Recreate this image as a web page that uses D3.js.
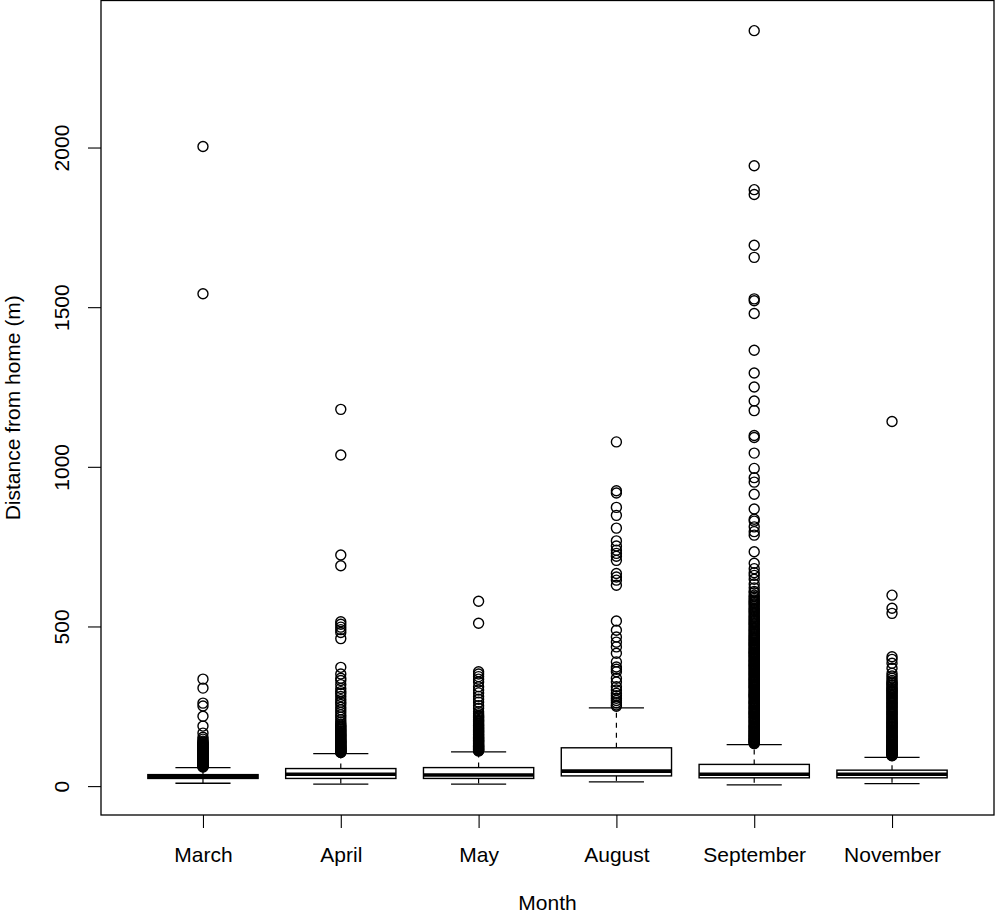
<!DOCTYPE html>
<html>
<head>
<meta charset="utf-8">
<script src="https://cdn.jsdelivr.net/npm/d3@7"></script>
<style>
  body { margin: 0; background: #fff; }
  text { font-family: "Liberation Sans", Arial, sans-serif; fill: #000; }
</style>
</head>
<body>
<div id="chart"></div>
<script>
////////// Data
var months = ["March", "April", "May", "August", "September", "November"];
var lowerWhisker = [9, 6, 6, 13, 4, 8];
var q1 = [24, 24, 24, 32, 26, 26];
var median = [30, 37, 35, 47, 37, 37];
var q3 = [36, 55, 58, 120, 68, 50];
var upperWhisker = [58, 102, 107, 245, 130, 90];
var yTicks = [0, 500, 1000, 1500, 2000];

// outliers (dense parts of the columns read as closely packed points)
var outMarch = [2003, 1542, 335, 307, 260, 251, 219, 188, 166, 153, 147, 141, 136, 131, 128, 123, 119, 116, 111, 108, 105, 101,
  98, 96, 92, 89, 87, 83, 80, 78, 75, 72, 70, 67, 65, 62, 60,
  61, 63, 66, 69, 71, 74, 77, 79, 82, 85, 88, 91, 94, 97, 100, 103, 107, 110, 113, 118, 121, 125, 130, 133, 138];
var outApril = [1180, 1037, 724, 690, 515, 507, 498, 490, 481, 462, 372, 351, 338, 331, 318, 306, 296, 290, 281, 271, 263, 256,
  247, 239, 231, 223, 216, 208, 201, 195, 188, 182, 176, 171, 165, 160, 156, 151, 146, 142, 138, 135, 131, 127, 124, 121,
  118, 115, 112, 109, 107, 105,
  106, 108, 110, 113, 116, 119, 122, 126, 129, 133, 137, 140, 144, 148, 153, 158, 163, 168, 173, 179, 185, 191];
var outMay = [579, 510, 358, 351, 343, 335, 326, 311, 301, 292, 281, 272, 263, 252, 244, 233, 227, 219, 213, 206, 201, 194,
  189, 183, 178, 173, 169, 163, 159, 154, 150, 146, 142, 139, 135, 131, 127, 124, 121, 118, 115, 113, 110,
  111, 114, 117, 120, 123, 126, 129, 133, 137, 141, 144, 148, 152, 156, 161, 166, 171, 176, 181, 186, 191, 197, 203, 209,
  216, 222];
var outAugust = [1078, 925, 918, 873, 848, 808, 768, 752, 739, 729, 720, 707, 666, 655, 645, 629, 517, 488, 467, 451, 436,
  416, 389, 373, 366, 358, 338, 326, 311, 301, 291, 283, 275, 268, 261, 254, 250];
var outSeptember = [2366, 1943, 1868, 1853, 1694, 1656, 1526, 1520, 1480, 1365, 1294, 1250, 1206, 1176, 1098, 1092, 1043, 995,
  966, 952, 914, 868, 836, 830, 812, 797, 786, 734, 698, 681, 668, 660, 648, 633, 621, 606, 593, 583, 575, 567, 557, 549,
  541, 532, 524, 516, 509, 501, 493, 486, 478, 471, 465, 458, 451, 446, 443, 437, 433, 428, 421, 417, 414, 408, 403, 396,
  393, 388, 381, 377, 374, 368, 362, 359, 353, 347, 344, 338, 333, 327, 324, 318, 312, 308, 303, 297, 294, 288, 283, 279,
  272, 268, 263, 258, 254, 248, 243, 239, 233, 228, 224, 218, 213, 209, 203, 198, 194, 188, 184, 179, 173, 169, 164, 159,
  155, 150, 146, 142, 138, 135,
  610, 598, 588, 579, 571, 562, 553, 545, 536, 528, 520, 512, 505, 497, 489, 482, 475, 468, 461, 455,
  449, 440, 430, 425, 419, 411, 405, 399, 390, 384, 379, 371, 365, 356, 350, 341, 335, 330, 321, 315, 310, 300, 291, 286,
  281, 275, 265, 260, 251, 245, 236, 231, 226, 220, 215, 206, 200, 191, 186, 181, 176, 171, 166, 161, 157, 152, 148, 144,
  140, 137, 133];
var outNovember = [1142, 598, 557, 541, 405, 397, 385, 369, 353, 345, 338, 331, 322, 315, 306, 299, 293, 285, 278, 272, 264,
  258, 250, 244, 236, 229, 223, 215, 209, 201, 196, 189, 184, 177, 171, 166, 159, 154, 150, 144, 139, 135, 129, 125, 121,
  117, 113, 109, 105, 102, 98, 95,
  96, 100, 104, 107, 111, 115, 119, 123, 127, 131, 137, 141, 147, 152, 157, 162, 168, 174, 180, 186, 193, 198, 205, 212,
  219, 226, 233, 240, 247, 254, 261, 268, 275, 282, 289, 296, 303, 310, 318, 326];
var outliers = [outMarch, outApril, outMay, outAugust, outSeptember, outNovember];

////////// Layout
var w = 995, h = 915;
var plotLeft = 101, plotRight = 994, plotTop = 0.5, plotBottom = 815;

var svg = d3.select("#chart").append("svg")
  .attr("width", w)
  .attr("height", h);

// scales, R style : 4% extension of the data range
var allValues = d3.merge(outliers).concat(lowerWhisker, upperWhisker);
var lo = d3.min(allValues), hi = d3.max(allValues);
var pad = (hi - lo) * 0.04;
var y = d3.scaleLinear().domain([lo - pad, hi + pad]).range([plotBottom, plotTop]);
var x = d3.scaleLinear().domain([0.5 - 0.24, months.length + 0.5 + 0.24]).range([plotLeft, plotRight]);

var halfBox = x(1.4) - x(1);
var halfCap = halfBox / 2;

var boxes = months.map(function(m, i) {
  return { id: i + 1, name: m, lw: lowerWhisker[i], q1: q1[i], med: median[i], q3: q3[i], uw: upperWhisker[i], out: outliers[i] };
});

var g = svg.append("g");

/*
 * Whiskers (dashed) and staples
 */
g.selectAll(".wup").data(boxes).enter().append("line")
  .attr("x1", function(d) { return x(d.id); })
  .attr("x2", function(d) { return x(d.id); })
  .attr("y1", function(d) { return y(d.q3); })
  .attr("y2", function(d) { return y(d.uw); })
  .attr("stroke", "#000").attr("stroke-width", 1.2).attr("stroke-dasharray", "5,5");
g.selectAll(".wlo").data(boxes).enter().append("line")
  .attr("x1", function(d) { return x(d.id); })
  .attr("x2", function(d) { return x(d.id); })
  .attr("y1", function(d) { return y(d.q1); })
  .attr("y2", function(d) { return y(d.lw); })
  .attr("stroke", "#000").attr("stroke-width", 1.2).attr("stroke-dasharray", "5,5");

["uw", "lw"].forEach(function(k) {
  g.selectAll(".cap" + k).data(boxes).enter().append("line")
    .attr("x1", function(d) { return x(d.id) - halfCap; })
    .attr("x2", function(d) { return x(d.id) + halfCap; })
    .attr("y1", function(d) { return y(d[k]); })
    .attr("y2", function(d) { return y(d[k]); })
    .attr("stroke", "#000").attr("stroke-width", 1.3);
});

/*
 * Boxes and medians
 */
g.selectAll(".box").data(boxes).enter().append("rect")
  .attr("x", function(d) { return x(d.id) - halfBox; })
  .attr("y", function(d) { return y(d.q3); })
  .attr("width", halfBox * 2)
  .attr("height", function(d) { return y(d.q1) - y(d.q3); })
  .attr("fill", "#fff")
  .attr("stroke", "#000").attr("stroke-width", 1.4);

g.selectAll(".med").data(boxes).enter().append("line")
  .attr("x1", function(d) { return x(d.id) - halfBox; })
  .attr("x2", function(d) { return x(d.id) + halfBox; })
  .attr("y1", function(d) { return y(d.med); })
  .attr("y2", function(d) { return y(d.med); })
  .attr("stroke", "#000").attr("stroke-width", 3.6);

/*
 * Outliers
 */
boxes.forEach(function(b) {
  g.selectAll(".o" + b.id).data(b.out).enter().append("circle")
    .attr("cx", x(b.id))
    .attr("cy", function(v) { return y(v); })
    .attr("r", 5)
    .attr("fill", "none")
    .attr("stroke", "#000").attr("stroke-width", 1.4);
});

// frame
svg.append("rect")
  .attr("x", plotLeft).attr("y", plotTop)
  .attr("width", plotRight - plotLeft).attr("height", plotBottom - plotTop)
  .attr("fill", "none").attr("stroke", "#000").attr("stroke-width", 1.3);

/*
 * Axes
 */
var xAxis = d3.axisBottom(x).tickValues(boxes.map(function(d) { return d.id; }))
  .tickFormat(function(i) { return months[i - 1]; }).tickSize(13);
var gx = svg.append("g").attr("transform", "translate(0," + plotBottom + ")").call(xAxis);
gx.select(".domain").remove();
gx.selectAll("line").attr("stroke-width", 1.1);
gx.selectAll("text").attr("y", 47).attr("dy", 0).style("font-size", "21px");

var yAxis = d3.axisLeft(y).tickValues(yTicks).tickFormat(d3.format("d")).tickSize(13);
var gy = svg.append("g").attr("transform", "translate(" + plotLeft + ",0)").call(yAxis);
gy.select(".domain").remove();
gy.selectAll("line").attr("stroke-width", 1.1);
gy.selectAll("text")
  .attr("x", 0).attr("dy", 0)
  .attr("text-anchor", "middle")
  .attr("transform", "translate(-32,0) rotate(-90)")
  .style("font-size", "21px");

// axis titles
svg.append("text")
  .attr("x", (plotLeft + plotRight) / 2).attr("y", 910)
  .attr("text-anchor", "middle")
  .style("font-size", "21px")
  .text("Month");

svg.append("text")
  .attr("transform", "translate(20," + ((plotTop + plotBottom) / 2) + ") rotate(-90)")
  .attr("text-anchor", "middle")
  .style("font-size", "21px")
  .text("Distance from home (m)");
</script>
</body>
</html>
